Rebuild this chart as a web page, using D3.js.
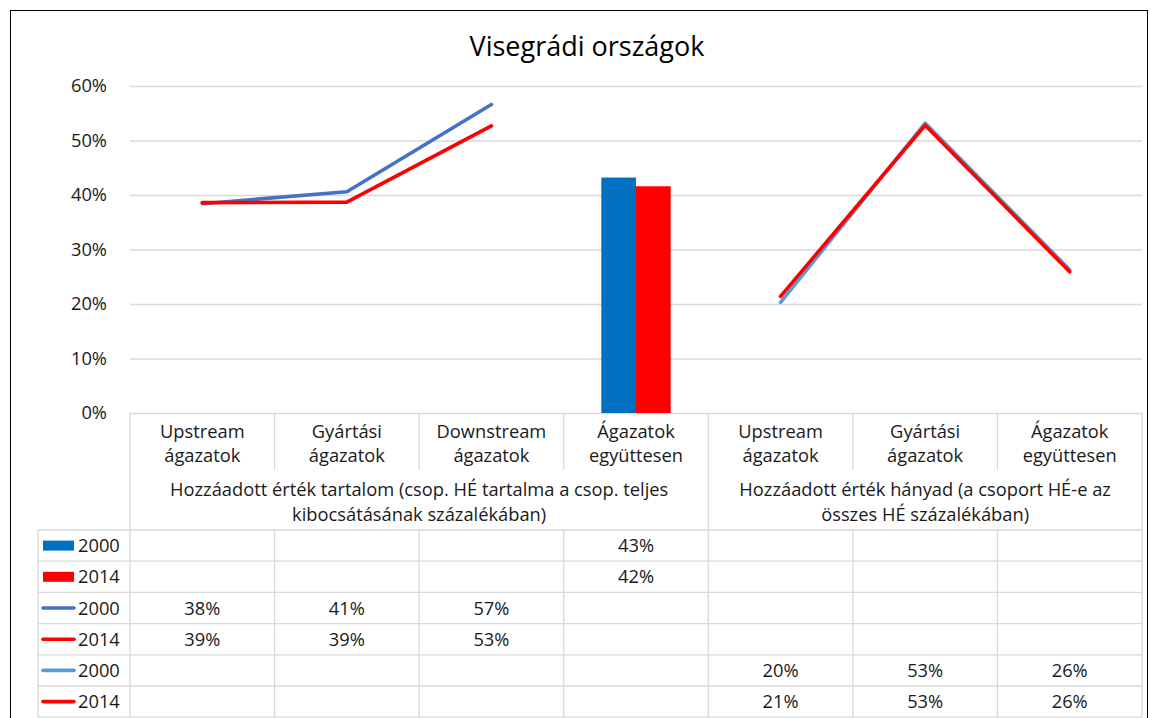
<!DOCTYPE html>
<html>
<head>
<meta charset="utf-8">
<script src="https://cdn.jsdelivr.net/npm/d3@7"></script>
<style>
  html, body { margin: 0; padding: 0; background: #fff; }
  svg { display: block; font-family: "Open Sans", Lato, sans-serif; }
</style>
</head>
<body>
<svg id="chart" width="1151" height="718"></svg>
<script>
// Category labels (two lines each) and group captions
const categories = [
  ["Upstream", "ágazatok"],
  ["Gyártási", "ágazatok"],
  ["Downstream", "ágazatok"],
  ["Ágazatok", "együttesen"],
  ["Upstream", "ágazatok"],
  ["Gyártási", "ágazatok"],
  ["Ágazatok", "együttesen"]
];
const groupLabels = [
  ["Hozzáadott érték tartalom (csop. HÉ tartalma a csop. teljes", "kibocsátásának százalékában)"],
  ["Hozzáadott érték hányad (a csoport HÉ-e az", "összes HÉ százalékában)"]
];
const yTicks = [0, 0.1, 0.2, 0.3, 0.4, 0.5, 0.6];

// Bars: all sectors, value-added content
const bar2000 = [null, null, null, 0.432, null, null, null];
const bar2014 = [null, null, null, 0.416, null, null, null];
// Lines: value-added content by sector group
const content2000 = [0.384, 0.406, 0.566, null, null, null, null];
const content2014 = [0.386, 0.387, 0.527, null, null, null, null];
// Lines: value-added share by sector group
const share2000 = [null, null, null, null, 0.203, 0.532, 0.263];
const share2014 = [null, null, null, null, 0.214, 0.528, 0.259];

const series = [
  { name: "2000", type: "bar", color: "#0070C0", values: bar2000, offset: -1 },
  { name: "2014", type: "bar", color: "#FF0000", values: bar2014, offset: 0 },
  { name: "2000", type: "line", color: "#4472C4", values: content2000 },
  { name: "2014", type: "line", color: "#FF0000", values: content2014 },
  { name: "2000", type: "line", color: "#5B9BD5", values: share2000 },
  { name: "2014", type: "line", color: "#FF0000", values: share2014 }
];

const svg = d3.select("#chart");
const gridColor = "#d9d9d9";
const textColor = "#1a1a1a";
const fontSize = 18.3;
const plotLeft = 130, plotRight = 1142, plotTop = 86, zeroY = 413;
const idx = d3.range(categories.length);

const x = d3.scaleBand().domain(idx).range([plotLeft, plotRight]);
const y = d3.scaleLinear().domain([0, 0.6]).range([zeroY, plotTop]);
const pct = d3.format(".0%");

// Outer frame
svg.append("rect")
  .attr("x", 10.5).attr("y", 10.5).attr("width", 1137).attr("height", 720)
  .attr("fill", "none").attr("stroke", "#000").attr("stroke-width", 1);

// Title
svg.append("text")
  .attr("x", 587).attr("y", 56).attr("text-anchor", "middle")
  .attr("font-size", 27).attr("fill", "#000")
  .text("Visegrádi országok");

// Y axis with gridlines
const yAxis = d3.axisLeft(y).tickValues(yTicks).tickFormat(pct)
  .tickSize(-(plotRight - plotLeft)).tickPadding(23);
const yg = svg.append("g").attr("transform", `translate(${plotLeft},0)`).call(yAxis);
yg.select(".domain").remove();
yg.selectAll(".tick line").attr("stroke", gridColor).attr("stroke-width", 1.3);
yg.selectAll(".tick text").attr("font-size", fontSize).attr("fill", textColor)
  .attr("font-family", "'Open Sans', sans-serif");

// Bars
const barW = x.bandwidth() * 0.24;
series.filter(s => s.type === "bar").forEach(s => {
  svg.append("g").selectAll("rect")
    .data(idx.filter(i => s.values[i] != null))
    .join("rect")
    .attr("x", i => x(i) + x.bandwidth() / 2 + s.offset * barW)
    .attr("y", i => y(s.values[i]))
    .attr("width", barW)
    .attr("height", i => zeroY - y(s.values[i]))
    .attr("fill", s.color);
});

// Lines
const line = d3.line()
  .defined(d => d.v != null)
  .x(d => x(d.i) + x.bandwidth() / 2)
  .y(d => y(d.v));
series.filter(s => s.type === "line").forEach(s => {
  svg.append("path")
    .datum(idx.map(i => ({ i, v: s.values[i] })))
    .attr("d", line)
    .attr("fill", "none")
    .attr("stroke", s.color)
    .attr("stroke-width", 3.6)
    .attr("stroke-linejoin", "round")
    .attr("stroke-linecap", "round");
});

// Category header and data table
const hdr = svg.append("g");
const rowTop = 530, rowH = 31.2;
const legendLeft = 38;
const tableBottom = 740;

// vertical dividers
hdr.append("line").attr("x1", plotLeft).attr("x2", plotLeft).attr("y1", zeroY).attr("y2", tableBottom)
  .attr("stroke", gridColor).attr("stroke-width", 1.3);
idx.slice(1).concat([categories.length]).forEach(i => {
  const xv = i === categories.length ? plotRight : x(i);
  const full = (i === 4 || i === categories.length);
  hdr.append("line").attr("x1", xv).attr("x2", xv)
    .attr("y1", zeroY).attr("y2", full ? tableBottom : 470)
    .attr("stroke", gridColor).attr("stroke-width", 1.3);
  if (!full) {
    hdr.append("line").attr("x1", xv).attr("x2", xv)
      .attr("y1", rowTop).attr("y2", tableBottom)
      .attr("stroke", gridColor).attr("stroke-width", 1.3);
  }
});
hdr.append("line").attr("x1", legendLeft).attr("x2", legendLeft)
  .attr("y1", rowTop).attr("y2", tableBottom)
  .attr("stroke", gridColor).attr("stroke-width", 1.3);

// horizontal rows
d3.range(series.length + 1).forEach(r => {
  const yy = rowTop + r * rowH;
  hdr.append("line").attr("x1", legendLeft).attr("x2", plotRight)
    .attr("y1", yy).attr("y2", yy)
    .attr("stroke", gridColor).attr("stroke-width", 1.3);
});

// category labels
categories.forEach((c, i) => {
  c.forEach((t, k) => {
    hdr.append("text")
      .attr("x", x(i) + x.bandwidth() / 2).attr("y", 438 + k * 24)
      .attr("text-anchor", "middle").attr("font-size", fontSize).attr("fill", textColor)
      .text(t);
  });
});

// group captions, centred on their category spans
const groupCenters = [(x(0) + x(3) + x.bandwidth()) / 2, (x(4) + plotRight) / 2];
groupLabels.forEach((g, gi) => {
  g.forEach((t, k) => {
    hdr.append("text")
      .attr("x", groupCenters[gi]).attr("y", 496 + k * 25)
      .attr("text-anchor", "middle").attr("font-size", fontSize).attr("fill", textColor)
      .text(t);
  });
});

// legend keys and values
series.forEach((s, r) => {
  const cy = rowTop + r * rowH + rowH / 2;
  if (s.type === "bar") {
    hdr.append("rect").attr("x", 43).attr("y", cy - 5).attr("width", 31).attr("height", 10)
      .attr("fill", s.color);
  } else {
    hdr.append("line").attr("x1", 43).attr("x2", 74).attr("y1", cy).attr("y2", cy)
      .attr("stroke", s.color).attr("stroke-width", 3.6).attr("stroke-linecap", "round");
  }
  hdr.append("text").attr("x", 78).attr("y", cy + 6.5)
    .attr("font-size", fontSize).attr("fill", textColor).text(s.name);
  idx.forEach(i => {
    if (s.values[i] == null) return;
    hdr.append("text")
      .attr("x", x(i) + x.bandwidth() / 2).attr("y", cy + 6.5)
      .attr("text-anchor", "middle").attr("font-size", fontSize).attr("fill", textColor)
      .text(pct(s.values[i]));
  });
});
</script>
</body>
</html>
